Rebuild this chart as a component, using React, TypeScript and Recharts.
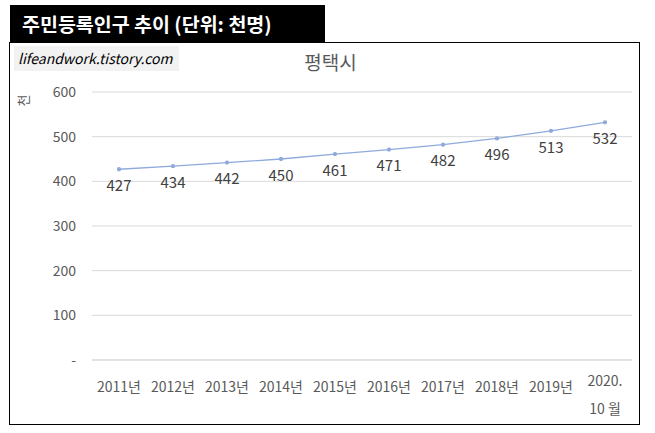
import React from 'react';
import { LineChart, Line, XAxis, YAxis, CartesianGrid, LabelList } from 'recharts';

const years = ['2011년', '2012년', '2013년', '2014년', '2015년', '2016년', '2017년', '2018년', '2019년', '2020.\n10 월'];
const population = [427, 434, 442, 450, 461, 471, 482, 496, 513, 532];
const yTicks = [0, 100, 200, 300, 400, 500, 600];

const data = years.map((year, i) => ({ year, value: population[i] }));

const FONT = '"Noto Sans CJK KR", "Noto Sans", sans-serif';

const YearTick = (props: any) => {
  const { x, y, payload } = props;
  const lines = String(payload.value).split('\n');
  return (
    <text x={x} y={y} textAnchor="middle" fill="#595959" fontSize={14} fontFamily={FONT}>
      {lines.map((line, i) => (
        <tspan key={i} x={x} dy={i === 0 ? (lines.length > 1 ? 18 : 24) : 28}>
          {line}
        </tspan>
      ))}
    </text>
  );
};

export default function App() {
  return (
    <div style={{ position: 'absolute', left: 0, top: 0, width: 655, height: 433, background: '#fff', fontFamily: FONT }}>
      <div
        style={{
          position: 'absolute', left: 10, top: 5, width: 315, height: 38, background: '#000',
          color: '#fff', fontWeight: 'bold', fontSize: 19.5, lineHeight: '38px', paddingLeft: 12, boxSizing: 'border-box',
        }}
      >
        주민등록인구 추이 (단위: 천명)
      </div>
      <div style={{ position: 'absolute', left: 9, top: 42, width: 631, height: 383, border: '1.5px solid #000', boxSizing: 'border-box' }}>
        <LineChart width={628} height={380} data={data} margin={{ top: 49, right: 6, bottom: 33, left: 0 }}>
          <CartesianGrid vertical={false} stroke="#d9d9d9" />
          <XAxis
            dataKey="year"
            interval={0}
            height={30}
            tickLine={false}
            axisLine={{ stroke: '#d9d9d9' }}
            padding={{ left: 27, right: 27 }}
            tick={<YearTick />}
          />
          <YAxis
            width={82}
            domain={[0, 600]}
            ticks={yTicks}
            axisLine={false}
            tickLine={false}
            tickMargin={10}
            tick={{ fill: '#595959', fontSize: 14, fontFamily: FONT }}
            tickFormatter={(v: number) => (v === 0 ? '-' : String(v))}
          />
          <Line
            type="linear"
            dataKey="value"
            stroke="#8faadc"
            strokeWidth={1.3}
            dot={{ r: 1.5, fill: '#8faadc', stroke: '#8faadc' }}
            isAnimationActive={false}
          >
            <LabelList dataKey="value" position="bottom" offset={11} fill="#404040" fontSize={15} fontFamily={FONT} />
          </Line>
        </LineChart>
        <div
          style={{
            position: 'absolute', left: 4, top: 3, width: 165, height: 25, background: '#f2f2f2',
            fontStyle: 'italic', fontSize: 14, lineHeight: '25px', paddingLeft: 4, boxSizing: 'border-box', color: '#000',
          }}
        >
          lifeandwork.tistory.com
        </div>
        <div style={{ position: 'absolute', left: 0, width: 631, top: 5, textAlign: 'center', fontSize: 19, color: '#595959' }}>
          <span style={{ marginLeft: 10 }}>평택시</span>
        </div>
        <div
          style={{
            position: 'absolute', left: 7, top: 48, fontSize: 13, color: '#595959', transform: 'rotate(-90deg)',
          }}
        >
          천
        </div>
      </div>
    </div>
  );
}
